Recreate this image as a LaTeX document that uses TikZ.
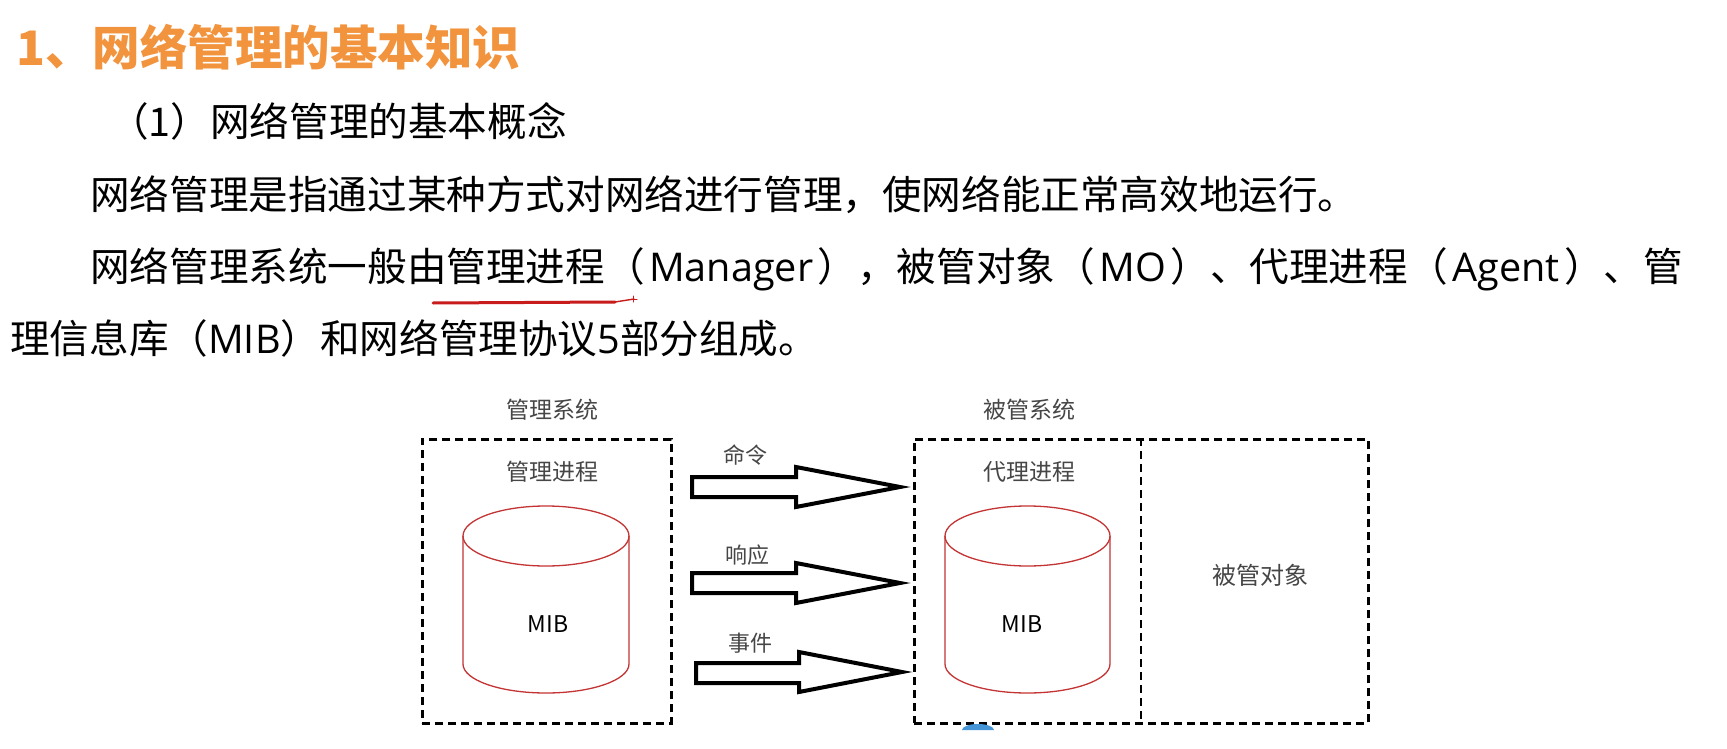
\documentclass[tikz,border=0pt]{standalone}
\usepackage{fontspec}
\setmainfont{Noto Sans CJK SC}
\newfontfamily\latin{Open Sans}
\newcommand{\latword}[1]{\hspace{4.5pt}{\latin #1}\hspace{4.5pt}}
\definecolor{titleorange}{RGB}{242,148,62}
\definecolor{mibred}{RGB}{196,52,52}
\definecolor{labelgray}{RGB}{70,70,70}
\definecolor{penred}{RGB}{200,28,28}
\definecolor{cursorblue}{RGB}{70,150,215}
\begin{document}
\begin{tikzpicture}[x=1pt,y=-1pt]
\tikzset{
  body/.style={anchor=base west, inner sep=0pt, font=\fontsize{39.6}{42}\selectfont, text=black},
  titletext/.style={anchor=base west, inner sep=0pt, font=\fontsize{47.5}{50}\selectfont\bfseries, text=titleorange},
  lbl/.style={inner sep=0pt, font=\fontsize{23}{24}\selectfont, text=labelgray},
  miblbl/.style={inner sep=0pt, font=\fontsize{23}{24}\selectfont, text=black},
  sysbox/.style={draw=black, line width=2.8pt, dash pattern=on 8pt off 5pt, anchor=north west, inner sep=0pt},
  divline/.style={draw=black, line width=2.8pt, dash pattern=on 8pt off 5pt},
  db/.style={draw=mibred, line width=1.3pt},
  bigarrow/.style={draw=black, line width=4pt, fill=white, line join=miter},
  pen/.style={draw=penred, line cap=round}
}
\fill[white] (0,0) rectangle (1727,749);
\useasboundingbox (0,0) rectangle (1727,749);

% text lines
\node[titletext] (title) at (16,66) {1、网络管理的基本知识};
\node[body] (sub) at (109,137) {（1）网络管理的基本概念};
\node[body] (l1) at (90,209) {网络管理是指通过某种方式对网络进行管理，使网络能正常高效地运行。};
\node[body] (l2) at (90,281) {网络管理系统一般由管理进程（\latword{Manager}），被管对象（\latword{MO}）、代理进程（\latword{Agent}）、管};
\node[body] (l3) at (10,353) {理信息库（{\latin MIB}）和网络管理协议{\latin 5}部分组成。};

% red pen underline
\draw[pen, line width=3pt] (433,303) -- (615,302);
\draw[pen, line width=1.4pt] (615,302) -- (634,299);
\draw[pen, line width=1pt] (630,299) -- (637,299) (633,296) -- (633,302);

% boxes
\node[sysbox, minimum width=249pt, minimum height=284pt] (mgr) at (421,438) {};
\node[sysbox, minimum width=454pt, minimum height=284pt] (agt) at (913,438) {};
\coordinate (divtop) at (1141,438);
\coordinate (divbot) at (1141,722);
\draw[divline] (divtop) -- (divbot);

% labels
\node[lbl] (mgrsys) at (552,410) {管理系统};
\node[lbl] (mgrproc) at (552,472) {管理进程};
\node[lbl] (agtsys) at (1029,410) {被管系统};
\node[lbl] (agtproc) at (1029,472) {代理进程};
\node[lbl, font=\fontsize{24}{25}\selectfont] (mo) at (1260,575) {被管对象};

% cylinders
\draw[db] (546,536) ellipse [x radius=83pt, y radius=30pt];
\draw[db] (463,536) -- (463,664) arc[start angle=180, end angle=360, x radius=83pt, y radius=29pt] -- (629,536);
\node[miblbl] (mib1) at (548,624) {MIB};

\draw[db] (1027.5,536) ellipse [x radius=82.5pt, y radius=30pt];
\draw[db] (945,536) -- (945,664) arc[start angle=180, end angle=360, x radius=82.5pt, y radius=29pt] -- (1110,536);
\node[miblbl] (mib2) at (1022,624) {MIB};

% block arrows
\draw[bigarrow] (692,477) -- (796,477) -- (796,467) -- (900,487) -- (796,507) -- (796,497) -- (692,497) -- cycle;
\draw[bigarrow] (692,573) -- (796,573) -- (796,563) -- (900,583) -- (796,603) -- (796,593) -- (692,593) -- cycle;
\draw[bigarrow] (696,663) -- (799,663) -- (799,652) -- (902,672) -- (799,692) -- (799,683) -- (696,683) -- cycle;
\node[lbl, font=\fontsize{22}{23}\selectfont] (cmd) at (745,455) {命令};
\node[lbl, font=\fontsize{22}{23}\selectfont] (resp) at (747,555) {响应};
\node[lbl, font=\fontsize{22}{23}\selectfont] (evt) at (750,643) {事件};

% small blue mark below right box
\fill[cursorblue] (962,730) arc[start angle=180, end angle=0, x radius=16pt, y radius=6pt] -- cycle;
\end{tikzpicture}
\end{document}
